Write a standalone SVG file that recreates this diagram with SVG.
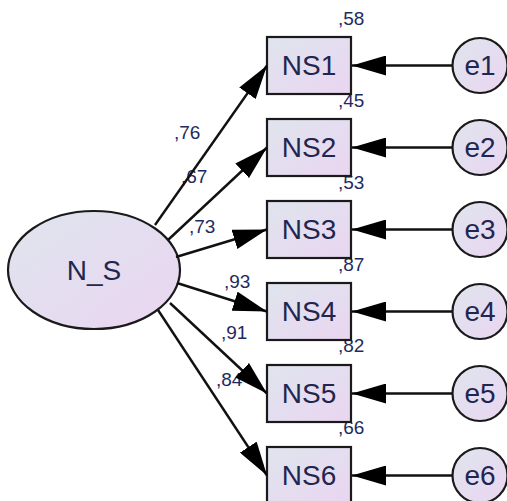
<svg xmlns="http://www.w3.org/2000/svg" width="507" height="501" viewBox="0 0 507 501">
<defs>
<linearGradient id="g" x1="0" y1="0" x2="1" y2="1">
<stop offset="0" stop-color="#dfe5ee"/>
<stop offset="1" stop-color="#ead5f1"/>
</linearGradient>
<marker id="ah" markerUnits="userSpaceOnUse" viewBox="0 0 34 20" refX="34" refY="10" markerWidth="34" markerHeight="20" orient="auto">
<path d="M0,0 L34,10 L0,20 z" fill="#000"/>
</marker>
<style>
.shape{fill:url(#g);stroke:#1a1a1a;stroke-width:2.2}
.big{font-family:"Liberation Sans",Arial,sans-serif;font-size:28px;fill:#1f2650;text-anchor:middle}
.lbl{font-family:"Liberation Sans",Arial,sans-serif;font-size:19px;fill:#1f2a60}
.conn{stroke:#111;stroke-width:2.4;fill:none;marker-end:url(#ah)}
</style>
</defs>
<g id="labels">
<text class="lbl" x="338" y="25">,58</text>
<text class="lbl" x="338" y="107">,45</text>
<text class="lbl" x="338" y="189">,53</text>
<text class="lbl" x="338" y="271">,87</text>
<text class="lbl" x="338" y="352">,82</text>
<text class="lbl" x="338" y="434">,66</text>
<text class="lbl" x="174" y="139">,76</text>
<text class="lbl" x="181" y="183">,67</text>
<text class="lbl" x="189" y="233">,73</text>
<text class="lbl" x="224" y="288">,93</text>
<text class="lbl" x="221" y="339">,91</text>
<text class="lbl" x="216" y="386">,84</text>
</g>
<g id="N_S">
<ellipse class="shape" cx="94" cy="270" rx="86" ry="59"/>
<text class="big" x="94" y="280">N_S</text>
</g>
<g id="NS1"><rect class="shape" x="267" y="37" width="84" height="57"/><text class="big" x="309" y="75">NS1</text></g>
<g id="NS2"><rect class="shape" x="267" y="119" width="84" height="57"/><text class="big" x="309" y="157">NS2</text></g>
<g id="NS3"><rect class="shape" x="267" y="201" width="84" height="57"/><text class="big" x="309" y="239">NS3</text></g>
<g id="NS4"><rect class="shape" x="267" y="283" width="84" height="57"/><text class="big" x="309" y="321">NS4</text></g>
<g id="NS5"><rect class="shape" x="267" y="365" width="84" height="57"/><text class="big" x="309" y="403">NS5</text></g>
<g id="NS6"><rect class="shape" x="267" y="447" width="84" height="57"/><text class="big" x="309" y="485">NS6</text></g>
<g id="e1"><circle class="shape" cx="480" cy="65.5" r="27.5"/><text class="big" x="480" y="75">e1</text></g>
<g id="e2"><circle class="shape" cx="480" cy="147.5" r="27.5"/><text class="big" x="480" y="157">e2</text></g>
<g id="e3"><circle class="shape" cx="480" cy="229.5" r="27.5"/><text class="big" x="480" y="239">e3</text></g>
<g id="e4"><circle class="shape" cx="480" cy="311.5" r="27.5"/><text class="big" x="480" y="321">e4</text></g>
<g id="e5"><circle class="shape" cx="480" cy="393.5" r="27.5"/><text class="big" x="480" y="403">e5</text></g>
<g id="e6"><circle class="shape" cx="480" cy="475.5" r="27.5"/><text class="big" x="480" y="485">e6</text></g>
<g id="connectors">
<line class="conn" x1="155" y1="225" x2="267" y2="65.5"/>
<line class="conn" x1="168" y1="240" x2="267" y2="147.5"/>
<line class="conn" x1="176" y1="257" x2="267" y2="229.5"/>
<line class="conn" x1="177" y1="283" x2="267" y2="311.5"/>
<line class="conn" x1="170" y1="303" x2="267" y2="393.5"/>
<line class="conn" x1="158" y1="310" x2="267" y2="475.5"/>
<line class="conn" x1="452.5" y1="65.5" x2="352" y2="65.5"/>
<line class="conn" x1="452.5" y1="147.5" x2="352" y2="147.5"/>
<line class="conn" x1="452.5" y1="229.5" x2="352" y2="229.5"/>
<line class="conn" x1="452.5" y1="311.5" x2="352" y2="311.5"/>
<line class="conn" x1="452.5" y1="393.5" x2="352" y2="393.5"/>
<line class="conn" x1="452.5" y1="475.5" x2="352" y2="475.5"/>
</g>
</svg>
